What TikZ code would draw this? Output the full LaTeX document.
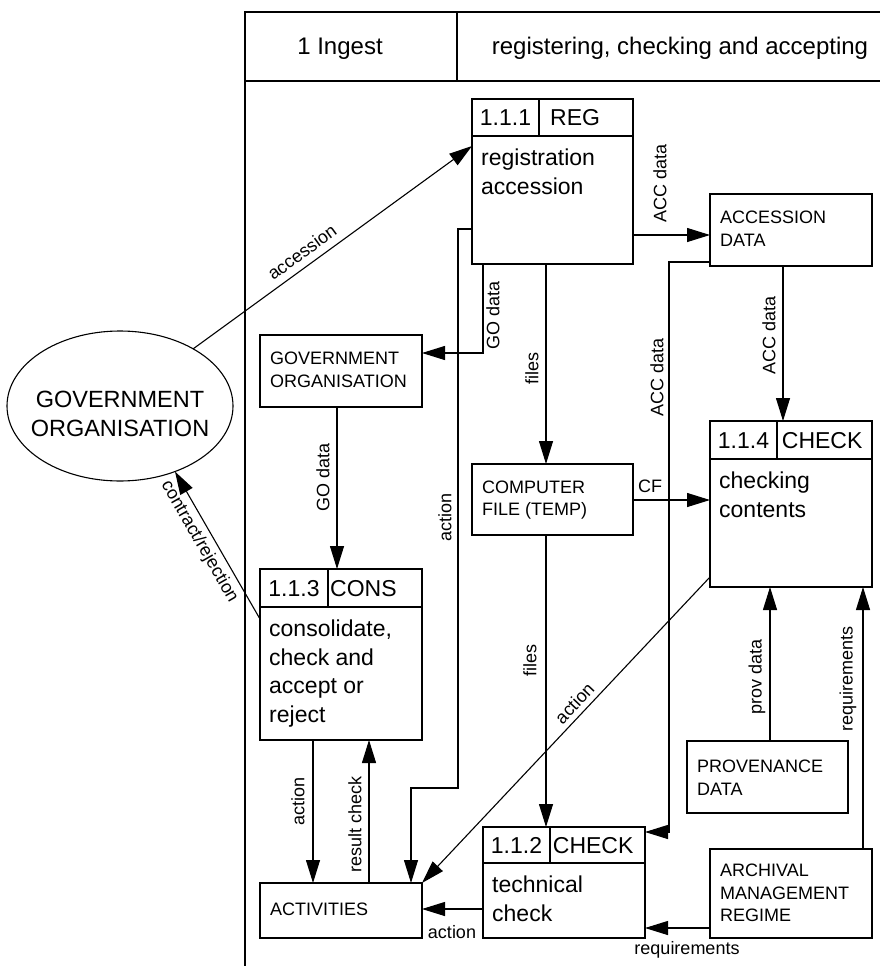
\documentclass[tikz,border=0pt]{standalone}
\usepackage{fontspec}
\setmainfont{Liberation Sans}
\usetikzlibrary{arrows.meta,calc,shapes.geometric}
\begin{document}
\begin{tikzpicture}[x=1pt,y=-1pt,
  ln/.style={line width=1.1pt},
  arr/.style={line width=1.1pt,-{Triangle[length=23pt,width=14pt]}},
  box/.style={draw,line width=1.1pt,rectangle,inner sep=0pt,outer sep=0pt,anchor=north west},
  tsm/.style={anchor=north west,inner sep=0pt,align=left,font=\fontsize{18}{22.5}\selectfont},
  tbig/.style={anchor=north west,inner sep=0pt,align=left,font=\fontsize{23}{28.5}\selectfont},
  hnum/.style={anchor=base,inner sep=0pt,font=\fontsize{23}{28}\selectfont},
  hname/.style={anchor=base west,inner sep=0pt,font=\fontsize{23}{28}\selectfont},
  lab/.style={inner sep=0pt,font=\fontsize{18}{22}\selectfont},
  vlab/.style={lab,rotate=90},
]
\fill[white] (0,0) rectangle (880,966);
\useasboundingbox (0,0) rectangle (880,966);

% frame and header
\draw[ln] (245,966) -- (245,12) -- (882,12);
\draw[ln] (245,81) -- (882,81);
\draw[ln] (457,12) -- (457,81);
\node[anchor=base,inner sep=0pt,font=\fontsize{24}{28}\selectfont] (hdrA) at (340,54.5) {1 Ingest};
\node[anchor=base,inner sep=0pt,font=\fontsize{24}{28}\selectfont] (hdrB) at (680,54.5) {registering, checking and accepting};

% ellipse
\node[draw,ellipse,line width=1.1pt,inner sep=0pt,outer sep=0pt,minimum width=226pt,minimum height=150pt] (govell) at (120,406) {};
\node[inner sep=0pt,align=center,font=\fontsize{23.5}{28.5}\selectfont] (govelltxt) at (120,414) {GOVERNMENT\\ORGANISATION};

% process boxes
\node[box,minimum width=161pt,minimum height=165pt] (reg) at (472,99) {};
\draw[ln] ($(reg.north west)+(0,37)$) -- ($(reg.north east)+(0,37)$);
\draw[ln] ($(reg.north west)+(67,0)$) -- ($(reg.north west)+(67,37)$);
\node[hnum] (regnum) at ($(reg.north west)+(33.5,26.7)$) {1.1.1};
\node[hname] (regname) at ($(reg.north west)+(78,26.7)$) {REG};
\node[tbig] (regtxt) at ($(reg.north west)+(9,49.5)$) {\rule{0pt}{17pt}registration\\accession};

\node[box,minimum width=162pt,minimum height=166pt] (chk4) at (710,421) {};
\draw[ln] ($(chk4.north west)+(0,38)$) -- ($(chk4.north east)+(0,38)$);
\draw[ln] ($(chk4.north west)+(67,0)$) -- ($(chk4.north west)+(67,38)$);
\node[hnum] (chk4num) at ($(chk4.north west)+(33.5,27.2)$) {1.1.4};
\node[hname] (chk4name) at ($(chk4.north west)+(71.7,27.2)$) {CHECK};
\node[tbig] (chk4txt) at ($(chk4.north west)+(9,50.5)$) {\rule{0pt}{17pt}checking\\contents};

\node[box,minimum width=162pt,minimum height=171pt] (cons) at (260,569) {};
\draw[ln] ($(cons.north west)+(0,38)$) -- ($(cons.north east)+(0,38)$);
\draw[ln] ($(cons.north west)+(68,0)$) -- ($(cons.north west)+(68,38)$);
\node[hnum] (consnum) at ($(cons.north west)+(34,27.2)$) {1.1.3};
\node[hname] (consname) at ($(cons.north west)+(70,27.2)$) {CONS};
\node[tbig] (constxt) at ($(cons.north west)+(9,50.5)$) {\rule{0pt}{17pt}consolidate,\\check and\\accept or\\reject};

\node[box,minimum width=162pt,minimum height=111pt] (chk2) at (483,827) {};
\draw[ln] ($(chk2.north west)+(0,36)$) -- ($(chk2.north east)+(0,36)$);
\draw[ln] ($(chk2.north west)+(67,0)$) -- ($(chk2.north west)+(67,36)$);
\node[hnum] (chk2num) at ($(chk2.north west)+(33.5,26.2)$) {1.1.2};
\node[hname] (chk2name) at ($(chk2.north west)+(69.7,26.2)$) {CHECK};
\node[tbig] (chk2txt) at ($(chk2.north west)+(9,48.5)$) {\rule{0pt}{17pt}technical\\check};

% data boxes
\node[box,minimum width=162pt,minimum height=72pt] (accd) at (710,194) {};
\node[tsm] (accdtxt) at ($(accd.north west)+(10,16.4)$) {\rule{0pt}{13pt}ACCESSION\\DATA};
\node[box,minimum width=162pt,minimum height=72pt] (govb) at (260,335) {};
\node[tsm] (govbtxt) at ($(govb.north west)+(10,16.4)$) {\rule{0pt}{13pt}GOVERNMENT\\ORGANISATION};
\node[box,minimum width=161pt,minimum height=71pt] (comp) at (472,464) {};
\node[tsm] (comptxt) at ($(comp.north west)+(10,16)$) {\rule{0pt}{13pt}COMPUTER\\FILE (TEMP)};
\node[box,minimum width=161pt,minimum height=72pt] (prov) at (687,741) {};
\node[tsm] (provtxt) at ($(prov.north west)+(10,18.4)$) {\rule{0pt}{13pt}PROVENANCE\\DATA};
\node[box,minimum width=162pt,minimum height=89pt] (arch) at (710,849) {};
\node[tsm] (archtxt) at ($(arch.north west)+(10,14.4)$) {\rule{0pt}{13pt}ARCHIVAL\\MANAGEMENT\\REGIME};
\node[box,minimum width=162pt,minimum height=55pt] (act) at (260,883) {};
\node[tsm] (acttxt) at ($(act.north west)+(10,19.4)$) {\rule{0pt}{13pt}ACTIVITIES};

% connectors
\draw[arr] (govell.38) -- ($(reg.north west)+(0,47)$)
  node[lab,sloped,above=7pt,pos=0.42] (lblaccession) {accession};
\draw[arr] ($(cons.north west)+(0,50)$) -- (govell.-50)
  node[lab,sloped,below=5pt,pos=0.57] (lblcontract) {contract/rejection};
\draw[arr] ($(reg.south west)+(11,0)$) |- ($(govb.north east)+(0,18)$);
\draw[arr] ($(reg.south west)+(74,0)$) -- ($(comp.north west)+(74,0)$);
\draw[arr] ($(reg.north east)+(0,136)$) -- ($(accd.north west)+(0,41)$);
\draw[arr] ($(accd.north west)+(0,68)$) -- ++(-41,0) |- ($(chk2.north east)+(0,5)$);
\draw[arr] ($(accd.south west)+(73,0)$) -- ($(chk4.north west)+(73,0)$);
\draw[arr] ($(comp.north east)+(0,36)$) -- ($(chk4.north west)+(0,79)$);
\draw[arr] ($(comp.south west)+(74,0)$) -- ($(chk2.north west)+(63,0)$);
\draw[arr] ($(govb.south west)+(77,0)$) -- ($(cons.north west)+(77,0)$);
\draw[arr] ($(reg.north west)+(0,130)$) -- ++(-14,0) |- ($(act.north west)+(151,-95)$) -- ($(act.north west)+(151,0)$);
\draw[arr] ($(cons.south west)+(53,0)$) -- ($(act.north west)+(53,0)$);
\draw[arr] ($(act.north west)+(109,0)$) -- ($(cons.south west)+(109,0)$);
\draw[arr] ($(chk4.south west)+(0,-10)$) -- (act.north east)
  node[lab,sloped,above=5pt,pos=0.44] (lblactdiag) {action};
\draw[arr] ($(chk2.north west)+(0,82)$) -- ($(act.north east)+(0,26)$);
\draw[arr] ($(arch.north west)+(0,79)$) -- ($(chk2.north east)+(0,101)$);
\draw[arr] ($(prov.north west)+(83,0)$) -- ($(chk4.south west)+(60,0)$);
\draw[arr] ($(arch.north west)+(153,0)$) -- ($(chk4.south west)+(153,0)$);

% labels
\node[vlab] (lblacc1) at (660,183) {ACC data};
\node[vlab] (lblgo1) at (493,315) {GO data};
\node[vlab] (lblfiles1) at (532,368) {files};
\node[vlab] (lblacc2) at (657,377) {ACC data};
\node[vlab] (lblacc3) at (769,335) {ACC data};
\node[lab] (lblcf) at (650,486.5) {CF};
\node[vlab] (lblgo2) at (323,477) {GO data};
\node[vlab] (lblact1) at (445,517) {action};
\node[vlab] (lblfiles2) at (530,660) {files};
\node[vlab] (lblprov) at (757,677) {prov data};
\node[vlab] (lblreq1) at (848,679) {requirements};
\node[vlab] (lblact3) at (298,801) {action};
\node[vlab] (lblres) at (355,824) {result check};
\node[lab] (lblact4) at (452,932) {action};
\node[lab] (lblreq2) at (687,950) {requirements};
\end{tikzpicture}
\end{document}
